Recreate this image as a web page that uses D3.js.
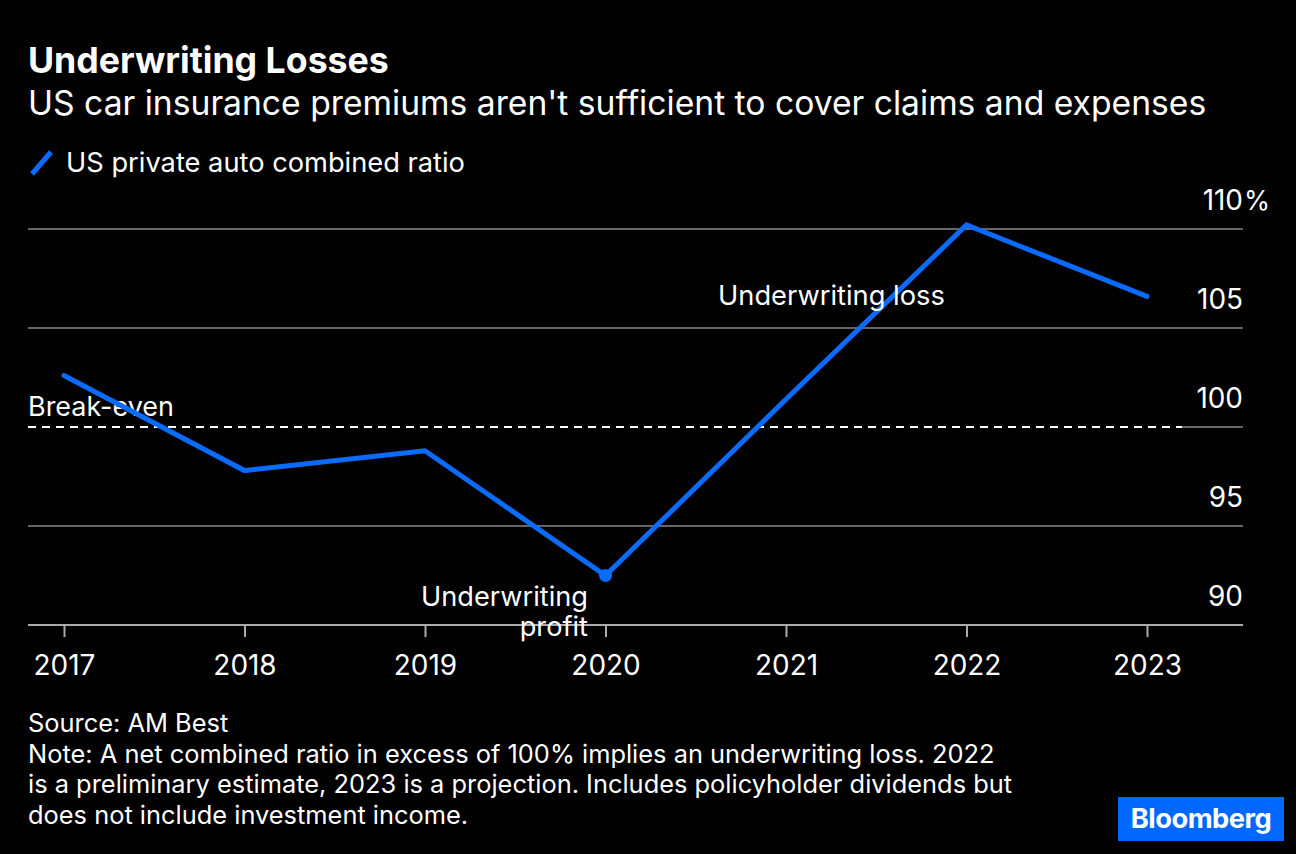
<!DOCTYPE html>
<html><head><meta charset="utf-8">
<script src="https://cdn.jsdelivr.net/npm/d3@7"></script>
<style>
body{margin:0;background:#000;}
svg text{font-family:Inter,"Liberation Sans",Arial,sans-serif;fill:#fff;}
</style></head>
<body><svg id="c" width="1296" height="854"></svg>
<script>
const years = [2017, 2018, 2019, 2020, 2021, 2022, 2023];
const ratio = [102.6, 97.8, 98.8, 92.5, 101.4, 110.2, 106.6];
const yTicks = [90, 95, 100, 105, 110];
const yTickLabels = ["90", "95", "100", "105", "110%"];
const title = "Underwriting Losses";
const subtitle = "US car insurance premiums aren't sufficient to cover claims and expenses";
const legendLabel = "US private auto combined ratio";
const noteLines = ["Source: AM Best",
 "Note: A net combined ratio in excess of 100% implies an underwriting loss. 2022",
 "is a preliminary estimate, 2023 is a projection. Includes policyholder dividends but",
 "does not include investment income."];

const blue = "#0a6cff";
const svg = d3.select("#c");
svg.append("rect").attr("width",1296).attr("height",854).attr("fill","#000");

const x = d3.scaleLinear().domain([2017,2023]).range([64,1147]);
const y = d3.scaleLinear().domain([90,110]).range([625,229]);
const left = 28, right = 1243;

function fit(sel, w){ const n=sel.node(); const l=n.getComputedTextLength(); const fs=parseFloat(sel.attr("font-size")); sel.attr("font-size", fs*w/l); return sel; }

svg.append("text").attr("x",28).attr("y",73).attr("font-size",31).attr("font-weight","bold").text(title).call(s=>fit(s,361));
svg.append("text").attr("x",28).attr("y",115).attr("font-size",30).text(subtitle).call(s=>fit(s,1179));
svg.append("line").attr("x1",32).attr("y1",174).attr("x2",51).attr("y2",152)
  .attr("stroke",blue).attr("stroke-width",5);
svg.append("text").attr("x",66).attr("y",172).attr("font-size",24).text(legendLabel).call(s=>fit(s,399));

const grid = svg.append("g");
yTicks.forEach((t,i)=>{
  if(t===90) return;
  if(t===100){
    grid.append("line").attr("x1",left).attr("x2",1182).attr("y1",y(t)).attr("y2",y(t))
      .attr("stroke","#fff").attr("stroke-width",2).attr("stroke-dasharray","8,6");
    grid.append("line").attr("x1",1182).attr("x2",right).attr("y1",y(t)).attr("y2",y(t))
      .attr("stroke","#666").attr("stroke-width",2);
  } else {
    grid.append("line").attr("x1",left).attr("x2",right).attr("y1",y(t)).attr("y2",y(t))
      .attr("stroke","#666").attr("stroke-width",2);
  }
});
// y tick labels, sized so "105" spans ~46px like the reference
const probe = svg.append("text").attr("font-size",24).text("105");
const tickFs = 24*46/probe.node().getComputedTextLength();
probe.remove();
yTicks.forEach((t,i)=>{
  svg.append("text").attr("x",1243).attr("y",y(t)-19).attr("font-size",tickFs)
    .attr("text-anchor","end").text(yTickLabels[i].replace("%",""));
  if(yTickLabels[i].includes("%")){
    svg.append("text").attr("x",1244).attr("y",y(t)-19).attr("font-size",tickFs*0.95).text("%");
  }
});

const xAxis = d3.axisBottom(x).tickValues(years).tickFormat(d3.format("d")).tickSize(12).tickSizeOuter(0);
const ax = svg.append("g").attr("transform",`translate(0,${y(90)})`).call(xAxis);
ax.select(".domain").remove();
ax.selectAll(".tick line").attr("stroke","#aaa").attr("stroke-width",2);
ax.selectAll(".tick text").attr("font-size",tickFs).attr("dy",0).attr("y",50).attr("fill","#fff")
  .style("font-family","Inter,'Liberation Sans',Arial,sans-serif");
svg.append("line").attr("x1",left).attr("x2",right).attr("y1",y(90)).attr("y2",y(90))
  .attr("stroke","#aaa").attr("stroke-width",2);

svg.append("text").attr("x",28).attr("y",416).attr("font-size",24).text("Break-even").call(s=>fit(s,146));

const line = d3.line().x((d,i)=>x(years[i])).y(d=>y(d));
svg.append("path").datum(ratio).attr("d",line).attr("fill","none")
  .attr("stroke",blue).attr("stroke-width",5).attr("stroke-linejoin","miter").attr("stroke-linecap","round");
const minI = ratio.indexOf(d3.min(ratio));
svg.append("circle").attr("cx",x(years[minI])).attr("cy",y(ratio[minI])).attr("r",6.5).attr("fill",blue);

svg.append("text").attr("x",718).attr("y",305).attr("font-size",24).text("Underwriting loss").call(s=>fit(s,227));
const up = svg.append("text").attr("x",588).attr("y",606).attr("font-size",24).attr("text-anchor","end").text("Underwriting").call(s=>fit(s,167));
svg.append("text").attr("x",588).attr("y",636).attr("font-size",up.attr("font-size")).attr("text-anchor","end").text("profit");

noteLines.forEach((l,i)=>{
  const t = svg.append("text").attr("x",28).attr("y",732+i*30.5).attr("font-size",22.5).text(l);
  if(i===1) fit(t,967);
});
const nfs = svg.selectAll("text").filter(function(){return this.textContent===noteLines[1];}).attr("font-size");
svg.selectAll("text").filter(function(){return noteLines.includes(this.textContent);}).attr("font-size",nfs);

svg.append("rect").attr("x",1118).attr("y",797).attr("width",166).attr("height",44).attr("fill","#0068ff");
svg.append("text").attr("x",1201).attr("y",828).attr("font-size",24).attr("font-weight","bold")
  .attr("text-anchor","middle").attr("letter-spacing",-0.5).text("Bloomberg").call(s=>fit(s,140));
</script></body></html>
